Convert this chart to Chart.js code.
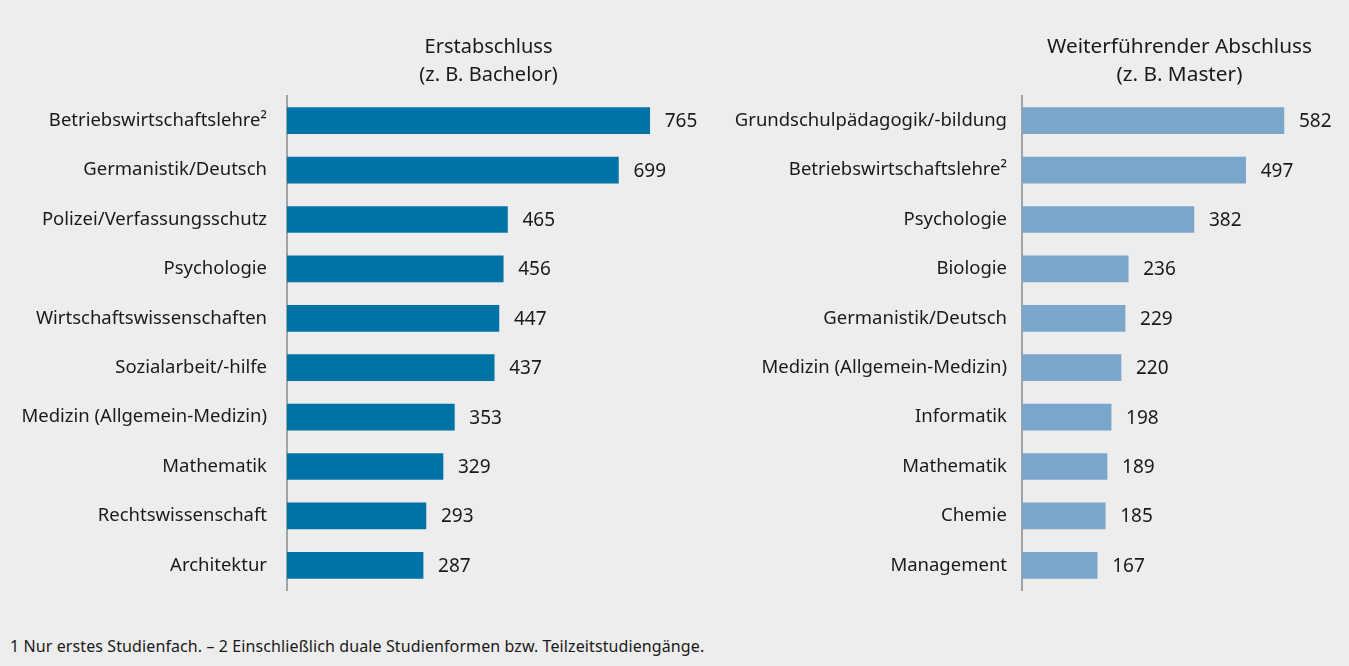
<!DOCTYPE html>
<html>
<head>
<meta charset="utf-8">
<script src="https://cdn.jsdelivr.net/npm/chart.js@4"></script>
<style>
  body { margin: 0; background: #ededed; width: 1349px; height: 666px; overflow: hidden; position: relative; }
  canvas { position: absolute; top: 0; }
  #chartLeft { left: 0; }
  #chartRight { left: 700px; }
  #note { position: absolute; left: 10px; top: 635px; font: 16px "Noto Sans", sans-serif; color: #1a1a1a; letter-spacing: 0.1px; }
</style>
</head>
<body>
<canvas id="chartLeft" width="700" height="600"></canvas>
<canvas id="chartRight" width="649" height="600"></canvas>
<div id="note">1 Nur erstes Studienfach. – 2 Einschließlich duale Studienformen bzw. Teilzeitstudiengänge.</div>
<script>
// Données
const faecherErst = ['Betriebswirtschaftslehre²', 'Germanistik/Deutsch', 'Polizei/Verfassungsschutz', 'Psychologie',
  'Wirtschaftswissenschaften', 'Sozialarbeit/-hilfe', 'Medizin (Allgemein-Medizin)', 'Mathematik',
  'Rechtswissenschaft', 'Architektur'];
const werteErst = [765, 699, 465, 456, 447, 437, 353, 329, 293, 287];

const faecherWeiter = ['Grundschulpädagogik/-bildung', 'Betriebswirtschaftslehre²', 'Psychologie', 'Biologie',
  'Germanistik/Deutsch', 'Medizin (Allgemein-Medizin)', 'Informatik', 'Mathematik', 'Chemie', 'Management'];
const werteWeiter = [582, 497, 382, 236, 229, 220, 198, 189, 185, 167];

const titelErst = ['Erstabschluss', '(z. B. Bachelor)'];
const titelWeiter = ['Weiterführender Abschluss', '(z. B. Master)'];

const schrift = '"Noto Sans", sans-serif';

// petit plugin : valeurs au bout des barres + titre au-dessus de la zone
const extras = {
  id: 'extras',
  afterDatasetsDraw(chart, args, opts) {
    const ctx = chart.ctx;
    ctx.save();
    ctx.font = '19px ' + schrift;
    ctx.fillStyle = '#1a1a1a';
    ctx.textBaseline = 'middle';
    ctx.textAlign = 'left';
    chart.getDatasetMeta(0).data.forEach((bar, i) => {
      ctx.fillText(chart.data.datasets[0].data[i], bar.x + 15, bar.y + 1);
    });
    const mid = (chart.chartArea.left + chart.chartArea.right) / 2;
    ctx.textAlign = 'center';
    ctx.font = opts.size + 'px ' + schrift;
    ctx.fillText(opts.lines[0], mid, 47);
    ctx.fillText(opts.lines[1], mid, 75);
    ctx.restore();
  }
};

function makeChart(id, labels, values, color, axisWidth, xMax, padRight, tickPad, lines, size) {
  return new Chart(document.getElementById(id), {
    type: 'bar',
    data: {
      labels: labels,
      datasets: [{ data: values, backgroundColor: color, barThickness: 26 }]
    },
    options: {
      indexAxis: 'y',
      responsive: false,
      animation: false,
      layout: { padding: { top: 96, bottom: 10, right: padRight, left: 0 } },
      plugins: { legend: { display: false }, tooltip: { enabled: false }, extras: { lines: lines, size: size } },
      scales: {
        x: { display: false, min: 0, max: xMax },
        y: {
          grid: { display: false, drawTicks: false },
          border: { display: true, color: '#a3a3a3', width: 2 },
          ticks: { color: '#1a1a1a', font: { size: 18.5, family: schrift }, padding: tickPad },
          afterFit(scale) {
            scale.width = axisWidth;
            scale.paddingTop = 0; // sinon l'axe réserve de la place en bas
            scale.paddingBottom = 0;
          }
        }
      }
    },
    plugins: [extras]
  });
}

makeChart('chartLeft', faecherErst, werteErst, '#0073a6', 287, 850, 10, 20, titelErst, 20);
makeChart('chartRight', faecherWeiter, werteWeiter, '#7aa6cc', 322, 700, 12, 15, titelWeiter, 20.8);
</script>
</body>
</html>
